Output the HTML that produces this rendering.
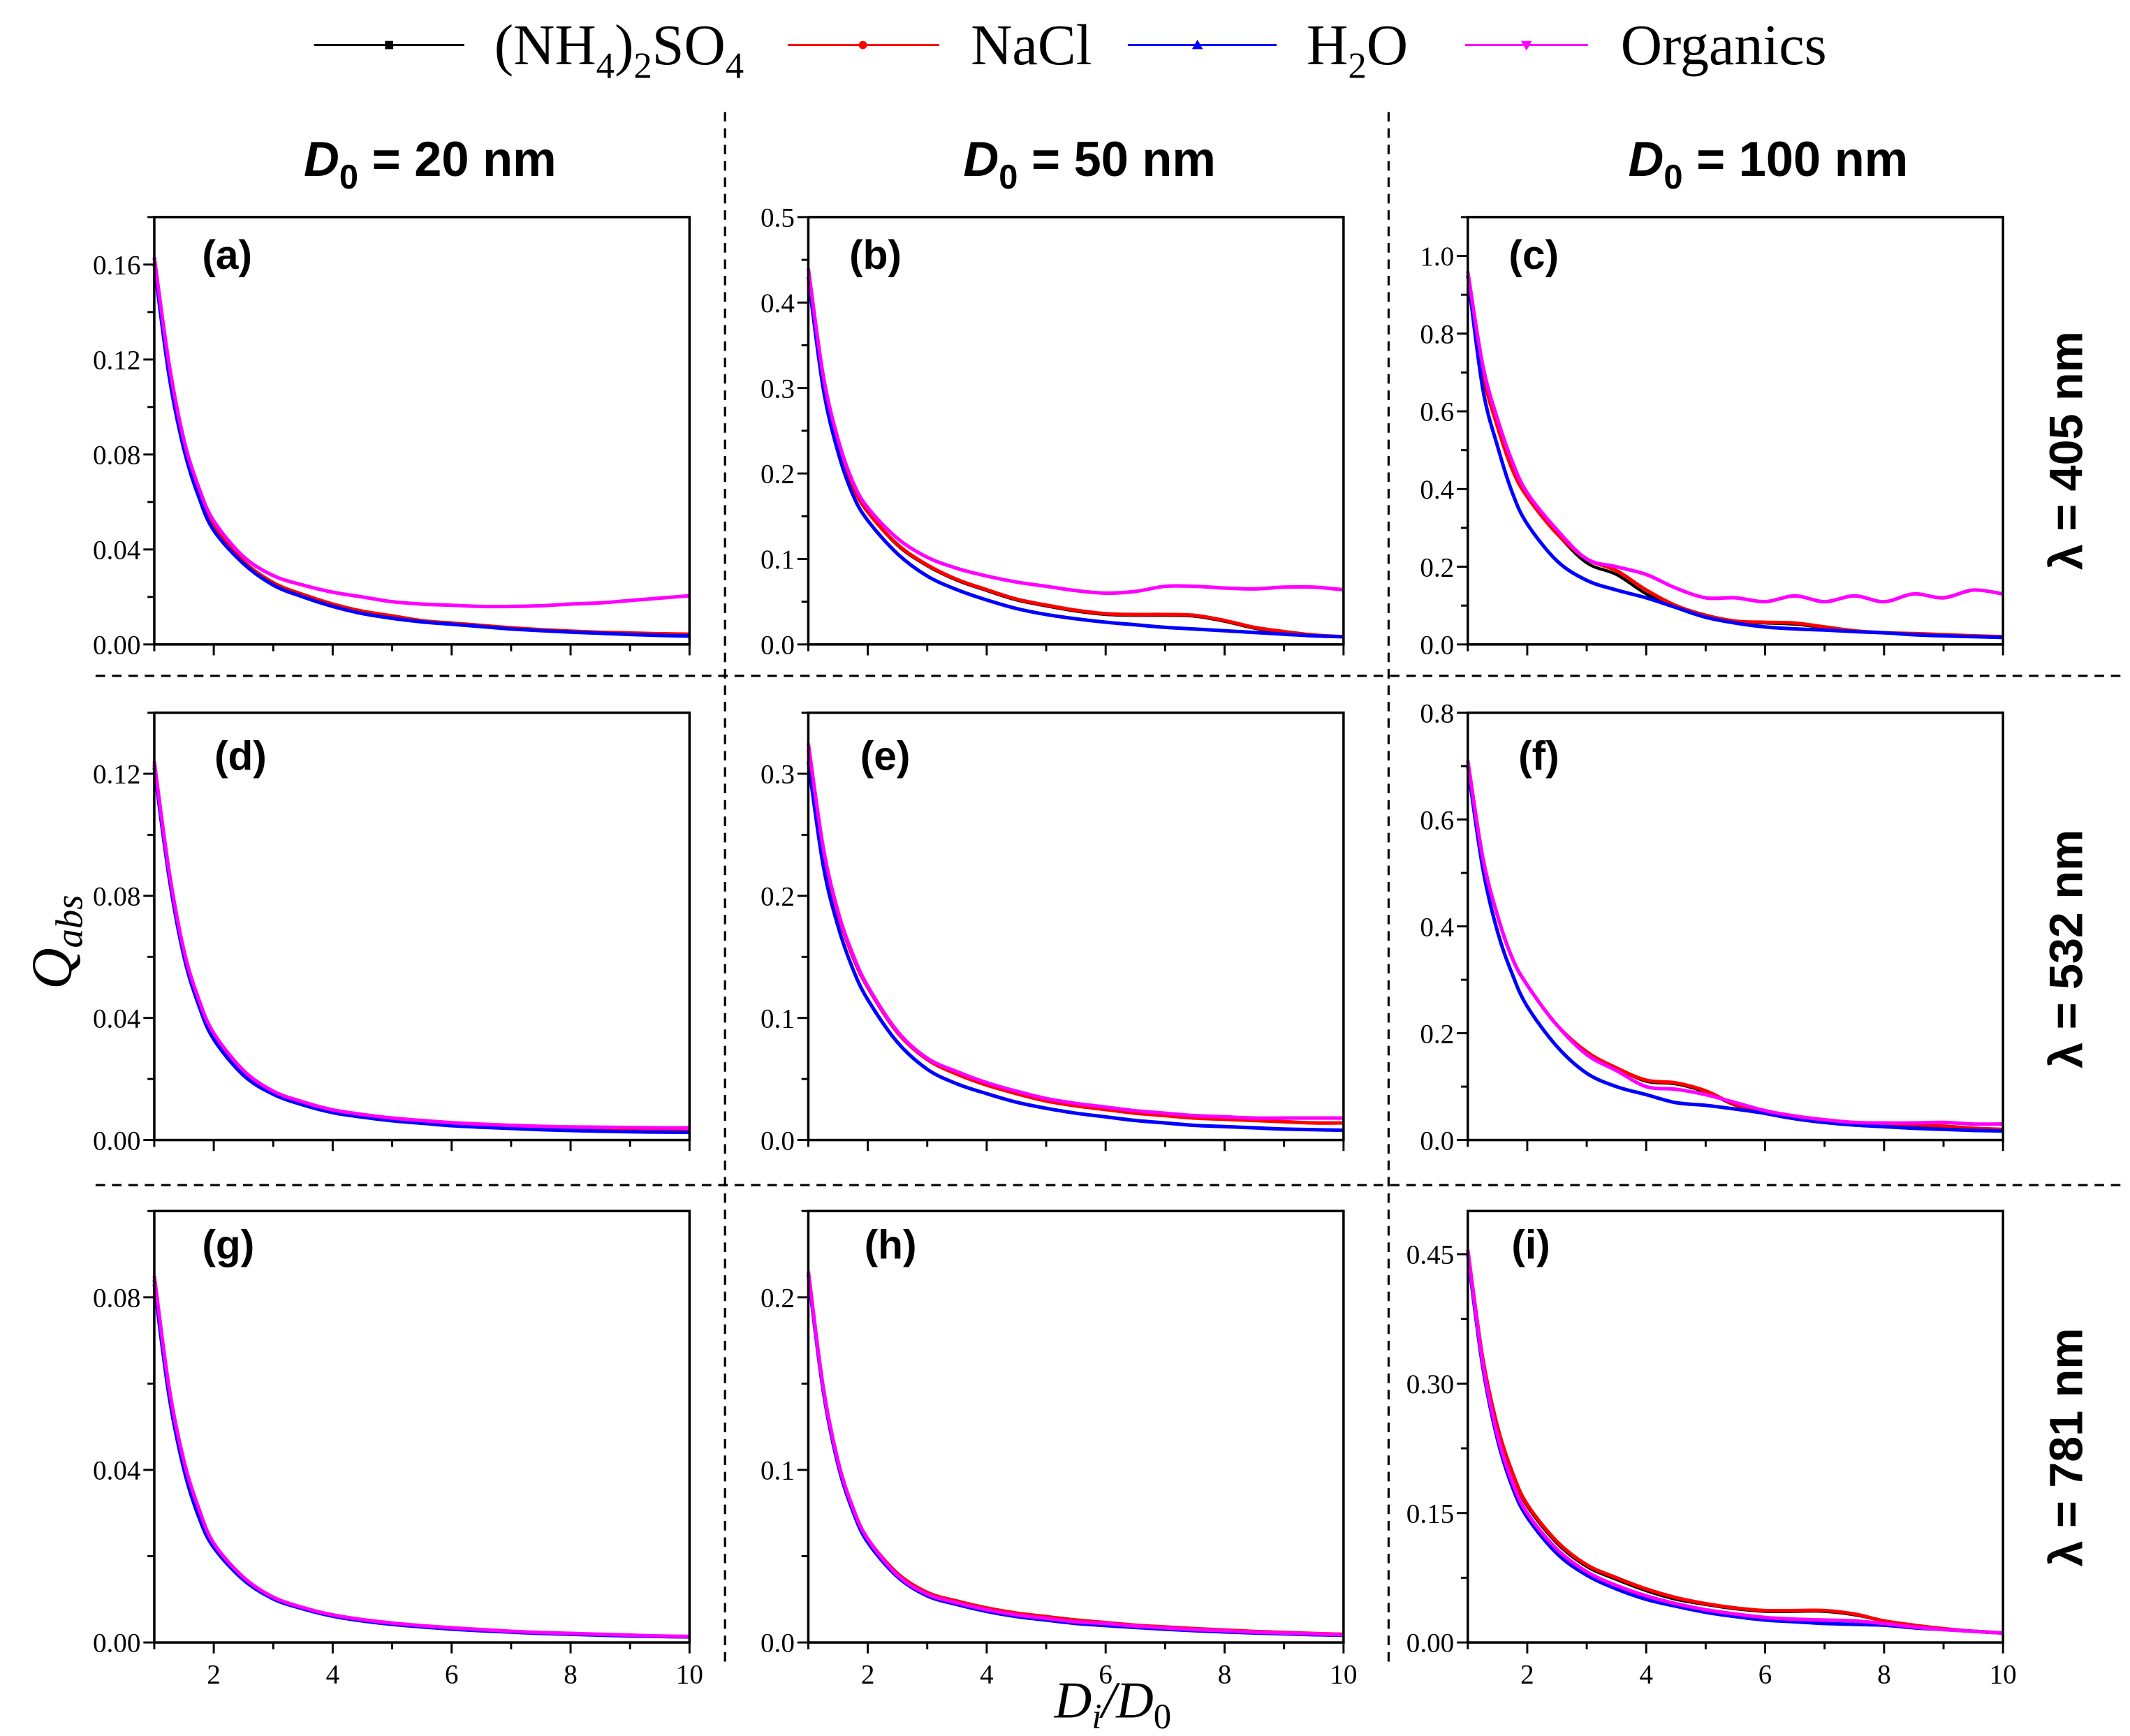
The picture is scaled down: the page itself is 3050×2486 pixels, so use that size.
<!DOCTYPE html>
<html><head><meta charset="utf-8"><style>
html,body{margin:0;padding:0;background:#fff;}
svg{display:block;}
.tk{font-family:"Liberation Serif",serif;font-size:20px;fill:#000;}
.bold{font-family:"Liberation Sans",sans-serif;font-weight:bold;fill:#000;}
.leg{font-family:"Liberation Serif",serif;font-size:42px;fill:#000;}
</style></head><body>
<svg id="fig" width="3050" height="2486" viewBox="0 0 1560 1271.5" preserveAspectRatio="none" xmlns="http://www.w3.org/2000/svg">
<g id="legend">
 <g>
  <line x1="230" y1="33" x2="340" y2="33" stroke="#000" stroke-width="1.5"/><rect x="282" y="30" width="6" height="6" fill="#000"/>
  <text class="leg" x="362" y="47">(NH<tspan font-size="27" dy="10">4</tspan><tspan dy="-10">)</tspan><tspan font-size="27" dy="10">2</tspan><tspan dy="-10">SO</tspan><tspan font-size="27" dy="10">4</tspan></text>
 </g>
 <g>
  <line x1="577" y1="33" x2="688" y2="33" stroke="#f00" stroke-width="1.5"/><circle cx="632" cy="33" r="3" fill="#f00"/>
  <text class="leg" x="711" y="47">NaCl</text>
 </g>
 <g>
  <line x1="826" y1="33" x2="935" y2="33" stroke="#00f" stroke-width="1.5"/><polygon points="877,29 881,36 873,36" fill="#00f"/>
  <text class="leg" x="957" y="47">H<tspan font-size="27" dy="10">2</tspan><tspan dy="-10">O</tspan></text>
 </g>
 <g>
  <line x1="1073" y1="33" x2="1163" y2="33" stroke="#f0f" stroke-width="1.5"/><polygon points="1114,30 1122,30 1118,37" fill="#f0f"/>
  <text class="leg" x="1187" y="47">Organics</text>
 </g>
</g>
<g stroke="#000" stroke-width="1.6" stroke-dasharray="7,5">
 <line x1="531" y1="82" x2="531" y2="1218"/>
 <line x1="1017" y1="82" x2="1017" y2="1218"/>
 <line x1="70" y1="495" x2="1555" y2="495"/>
 <line x1="70" y1="868" x2="1555" y2="868"/>
</g>
<g>
 <text class="bold" x="315" y="129" font-size="36" text-anchor="middle"><tspan font-style="italic">D</tspan><tspan font-size="25" dy="9">0</tspan><tspan dy="-9"> = 20 nm</tspan></text>
 <text class="bold" x="798" y="129" font-size="36" text-anchor="middle"><tspan font-style="italic">D</tspan><tspan font-size="25" dy="9">0</tspan><tspan dy="-9"> = 50 nm</tspan></text>
 <text class="bold" x="1295" y="129" font-size="36" text-anchor="middle"><tspan font-style="italic">D</tspan><tspan font-size="25" dy="9">0</tspan><tspan dy="-9"> = 100 nm</tspan></text>
</g>
<g>
 <text class="bold" font-size="34" text-anchor="middle" transform="translate(1525,330) rotate(-90)">λ = 405 nm</text>
 <text class="bold" font-size="34" text-anchor="middle" transform="translate(1525,695) rotate(-90)">λ = 532 nm</text>
 <text class="bold" font-size="34" text-anchor="middle" transform="translate(1525,1060) rotate(-90)">λ = 781 nm</text>
</g>
<text font-family="Liberation Serif,serif" font-style="italic" font-size="42" text-anchor="middle" transform="translate(52,690) rotate(-90)">Q<tspan font-size="28" dy="8">abs</tspan></text>
<text font-family="Liberation Serif,serif" font-style="italic" font-size="38" text-anchor="middle" x="815" y="1258">D<tspan font-size="26" dy="8">i</tspan><tspan dy="-8">/D</tspan><tspan font-size="26" dy="8" font-style="normal">0</tspan></text>
<g id="panels"></g>
</svg>
<script>
const xs = [1,1.25,1.5,1.75,2,2.5,3,3.5,4,4.5,5,5.5,6,6.5,7,7.5,8,8.5,9,9.5,10];
const seriesNames = ["ammonium-sulfate","nacl","water","organics"];
const seriesColors = ["#000","#f00","#00f","#f0f"];
const panelLabels = ["(a)","(b)","(c)","(d)","(e)","(f)","(g)","(h)","(i)"];
const yMax = [0.18,0.5,1.1,0.14,0.35,0.8,0.10,0.25,0.5];
const yStep = [0.04,0.1,0.2,0.04,0.1,0.2,0.04,0.1,0.15];
const yDecimals = [2,1,1,2,1,1,2,1,2];
const xTicks = [2,4,6,8,10];
// panel a
const aBlack=[.163,.116,.084,.064,.05,.035,.026,.021,.017,.014,.012,.010,.009,.008,.007,.006,.0055,.005,.0047,.0044,.0042];
const aRed=[.163,.116,.084,.064,.05,.035,.026,.021,.017,.014,.012,.010,.009,.008,.007,.0062,.0056,.0051,.0048,.0045,.0043];
const aBlue=[.160,.113,.082,.062,.048,.034,.025,.020,.016,.013,.011,.0095,.0085,.0075,.0065,.0058,.0052,.0047,.0042,.0038,.0035];
const aOrg=[.163,.118,.086,.066,.052,.037,.029,.025,.022,.020,.018,.017,.0165,.016,.016,.0163,.017,.0175,.0185,.0195,.0205];
// panel b
const bBlack=[.43,.31,.235,.185,.155,.116,.092,.075,.063,.052,.045,.039,.035,.034,.034,.033,.027,.019,.014,.011,.009];
const bRed=[.43,.31,.235,.185,.155,.117,.093,.076,.064,.053,.046,.04,.036,.035,.035,.034,.028,.02,.015,.011,.009];
const bBlue=[.43,.30,.225,.175,.145,.106,.08,.064,.052,.042,.035,.03,.026,.023,.02,.018,.016,.014,.012,.010,.009];
const bOrg=[.44,.315,.24,.19,.16,.124,.102,.089,.08,.073,.068,.063,.06,.062,.068,.068,.066,.065,.067,.067,.064];
// panel c
const cBlack=[.95,.70,.56,.45,.38,.285,.21,.18,.13,.095,.07,.058,.055,.052,.043,.034,.03,.027,.024,.021,.019];
const cRed=[.95,.70,.56,.45,.38,.285,.22,.19,.14,.10,.075,.06,.057,.055,.045,.035,.03,.028,.025,.022,.02];
const cBlue=[.95,.66,.51,.39,.31,.215,.165,.14,.12,.095,.07,.055,.045,.04,.037,.033,.03,.025,.022,.02,.018];
const cOrg=[.96,.72,.58,.47,.39,.295,.22,.2,.18,.145,.12,.12,.11,.125,.11,.125,.11,.13,.12,.14,.13];
// panel d
const dBlack=[.123,.087,.061,.045,.034,.022,.0155,.012,.0095,.008,.0068,.006,.0052,.0047,.0043,.004,.0037,.0034,.0032,.003,.0028];
const dRed=[.123,.087,.061,.045,.034,.022,.0155,.012,.0095,.008,.0068,.006,.0052,.0047,.0043,.004,.0037,.0034,.0032,.003,.0028];
const dBlue=[.122,.086,.060,.044,.033,.0212,.015,.0115,.009,.0075,.0063,.0055,.0047,.0042,.0038,.0034,.0031,.0029,.0027,.0026,.0025];
const dOrg=[.124,.088,.062,.046,.035,.0228,.016,.0125,.0099,.0084,.0072,.0064,.0057,.0052,.0048,.0045,.0043,.0042,.0041,.004,.004];
// panel e
const eBlack=[.32,.235,.185,.15,.125,.088,.066,.054,.045,.038,.032,.028,.025,.022,.02,.018,.017,.016,.015,.014,.014];
const eRed=[.32,.235,.185,.15,.125,.088,.066,.054,.045,.038,.032,.028,.025,.022,.02,.018,.017,.016,.015,.014,.014];
const eBlue=[.31,.225,.175,.14,.115,.08,.058,.046,.038,.031,.026,.022,.019,.016,.014,.012,.011,.01,.009,.0085,.008];
const eOrg=[.325,.24,.187,.152,.126,.089,.067,.056,.047,.04,.034,.03,.027,.024,.022,.02,.019,.018,.018,.018,.018];
// panel f
const fBlack=[.71,.53,.42,.34,.29,.215,.165,.135,.11,.105,.09,.065,.05,.04,.033,.03,.03,.028,.025,.022,.02];
const fRed=[.71,.53,.42,.34,.29,.215,.165,.135,.112,.107,.092,.066,.05,.04,.033,.03,.031,.029,.026,.022,.02];
const fBlue=[.70,.51,.39,.31,.25,.175,.125,.1,.085,.07,.065,.058,.05,.04,.033,.028,.025,.022,.02,.018,.017];
const fOrg=[.71,.53,.42,.34,.29,.215,.16,.13,.1,.095,.085,.07,.055,.045,.038,.033,.032,.032,.033,.03,.03];
// panel g
const gBlack=[.084,.058,.041,.030,.0225,.0148,.0103,.008,.0063,.0052,.0044,.0038,.0033,.0029,.0025,.0022,.002,.0018,.0016,.0014,.0013];
const gRed=[.084,.058,.041,.030,.0225,.0148,.0103,.008,.0063,.0052,.0044,.0038,.0033,.0029,.0025,.0022,.002,.0018,.0016,.0014,.0013];
const gBlue=[.083,.057,.040,.029,.022,.0145,.0101,.0078,.0061,.005,.0042,.0036,.0031,.0027,.0024,.0021,.0019,.0017,.0015,.0014,.0013];
const gOrg=[.085,.059,.042,.031,.023,.0151,.0105,.0081,.0064,.0053,.0045,.0039,.0034,.003,.0026,.0023,.0021,.0019,.0017,.0015,.0014];
// panel h
const hBlack=[.215,.148,.105,.078,.06,.04,.029,.024,.02,.017,.015,.013,.0115,.01,.009,.008,.0072,.0064,.0058,.0052,.0047];
const hRed=[.215,.148,.105,.078,.06,.04,.029,.024,.02,.017,.015,.013,.0115,.01,.009,.008,.0072,.0064,.0058,.0052,.0047];
const hBlue=[.213,.146,.103,.076,.058,.038,.027,.022,.018,.015,.013,.011,.0098,.0087,.0077,.0068,.0061,.0055,.005,.0045,.0042];
const hOrg=[.215,.148,.105,.078,.06,.039,.028,.023,.019,.016,.014,.012,.011,.0095,.0085,.0075,.0068,.006,.0055,.005,.0045];
// panel i
const iBlack=[.455,.33,.25,.195,.158,.115,.088,.073,.06,.05,.044,.039,.036,.036,.036,.032,.025,.02,.016,.013,.011];
const iRed=[.455,.33,.25,.197,.16,.117,.09,.075,.062,.052,.045,.04,.037,.037,.037,.033,.025,.02,.016,.013,.011];
const iBlue=[.45,.32,.235,.18,.145,.103,.078,.062,.05,.042,.035,.03,.026,.024,.022,.021,.02,.017,.015,.013,.011];
const iOrg=[.455,.325,.24,.186,.15,.108,.082,.066,.054,.045,.038,.033,.029,.027,.026,.025,.022,.018,.015,.013,.011];

const panelData=[[aBlack,aRed,aBlue,aOrg],[bBlack,bRed,bBlue,bOrg],[cBlack,cRed,cBlue,cOrg],
 [dBlack,dRed,dBlue,dOrg],[eBlack,eRed,eBlue,eOrg],[fBlack,fRed,fBlue,fOrg],
 [gBlack,gRed,gBlue,gOrg],[hBlack,hRed,hBlue,hOrg],[iBlack,iRed,iBlue,iOrg]];

const NS="http://www.w3.org/2000/svg";
const colL=[113,592,1075], colW=392;
const rowT=[159,522,887], rowB=[472,835,1203];
const labelOff=[[35,38],[30,38],[30,38],[44,42],[38,42],[37,42],[35,35],[41,35],[32,35]];
function mk(tag,attrs,parent){const e=document.createElementNS(NS,tag);for(const k in attrs)e.setAttribute(k,attrs[k]);parent.appendChild(e);return e;}
const root=document.getElementById('panels');
function smoothPath(pts){let d="M"+pts[0][0].toFixed(2)+","+pts[0][1].toFixed(2);
 for(let i=0;i<pts.length-1;i++){const p0=pts[Math.max(0,i-1)],p1=pts[i],p2=pts[i+1],p3=pts[Math.min(pts.length-1,i+2)];
  const c1x=p1[0]+(p2[0]-p0[0])/6,c1y=p1[1]+(p2[1]-p0[1])/6,c2x=p2[0]-(p3[0]-p1[0])/6,c2y=p2[1]-(p3[1]-p1[1])/6;
  d+=" C"+c1x.toFixed(2)+","+c1y.toFixed(2)+" "+c2x.toFixed(2)+","+c2y.toFixed(2)+" "+p2[0].toFixed(2)+","+p2[1].toFixed(2);}
 return d;}
for(let p=0;p<9;p++){
 const r=Math.floor(p/3),c=p%3;
 const L=colL[c],R=L+colW,T=rowT[r],B=rowB[r];
 const xS=v=>L+(v-1)/9*(R-L);
 const yS=v=>B-v/yMax[p]*(B-T);
 const g=mk('g',{},root);
 
 
 for(let s=0;s<4;s++){
  const pts=xs.map((x,i)=>[xS(x),yS(panelData[p][s][i])]);
  const path=mk('path',{d:smoothPath(pts),fill:'none',stroke:seriesColors[s],'stroke-width':s===0?2.2:2.6,'stroke-linejoin':'round'},g);
  
  
 }
 const frame=mk('rect',{x:L,y:T,width:R-L,height:B-T,fill:'none',stroke:'#000','stroke-width':1.8},g);
 
 
 for(let v=1;v<=10;v++){
  const major=(v%2===0);
  mk('line',{x1:xS(v),y1:B,x2:xS(v),y2:B+(major?8:5),stroke:'#000','stroke-width':1.5},g);
 }
 if(r===2){for(const v of xTicks){const t=mk('text',{x:xS(v),y:B+30,'text-anchor':'middle',class:'tk'},g);t.textContent=String(v);
  
  }}
 const n=Math.round(yMax[p]/yStep[p]*2);
 for(let k=0;k<=n;k++){const v=k*yStep[p]/2;if(v>yMax[p]+1e-9)break;const major=k%2===0;
  mk('line',{x1:L,y1:yS(v),x2:L-(major?8:5),y2:yS(v),stroke:'#000','stroke-width':1.5},g);
  if(major){const t=mk('text',{x:L-10,y:yS(v)+7,'text-anchor':'end',class:'tk'},g);t.textContent=v.toFixed(yDecimals[p]);
   
   }}
 const lab=mk('text',{x:L+labelOff[p][0],y:T+labelOff[p][1],class:'bold','font-size':30},g);
 lab.textContent=panelLabels[p];
 
 
}
</script>
</body></html>
